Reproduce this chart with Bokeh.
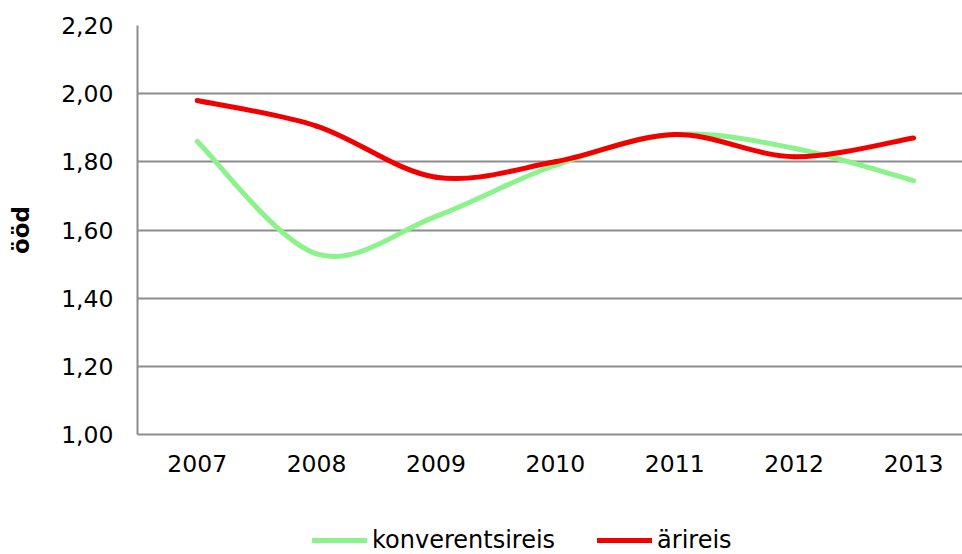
from bokeh.plotting import figure
from bokeh.layouts import column
from bokeh.models import FixedTicker, Legend, LegendItem, Range1d, ColumnDataSource
from bokeh.embed import file_html
from bokeh.resources import INLINE

years = [2007, 2008, 2009, 2010, 2011, 2012, 2013]
konverentsireis = [1.86, 1.53, 1.64, 1.79, 1.88, 1.84, 1.745]
arireis = [1.98, 1.905, 1.755, 1.80, 1.88, 1.815, 1.87]
y_ticks = [1.0, 1.2, 1.4, 1.6, 1.8, 2.0, 2.2]
y_tick_labels = ["1,00", "1,20", "1,40", "1,60", "1,80", "2,00", "2,20"]
series_names = ["konverentsireis", "ärireis"]
series_colors = ["#8CF28C", "#F20000"]

FONT = "DejaVu Sans"


def smooth_segments(xs, ys):
    # Catmull-Rom style bezier control points (as Excel smoothed lines)
    n = len(xs)
    d = dict(x0=[], y0=[], x1=[], y1=[], cx0=[], cy0=[], cx1=[], cy1=[])
    for i in range(n - 1):
        p0 = (xs[max(i - 1, 0)], ys[max(i - 1, 0)])
        p1 = (xs[i], ys[i])
        p2 = (xs[i + 1], ys[i + 1])
        p3 = (xs[min(i + 2, n - 1)], ys[min(i + 2, n - 1)])
        d["x0"].append(p1[0]); d["y0"].append(p1[1])
        d["x1"].append(p2[0]); d["y1"].append(p2[1])
        d["cx0"].append(p1[0] + (p2[0] - p0[0]) / 6.0)
        d["cy0"].append(p1[1] + (p2[1] - p0[1]) / 6.0)
        d["cx1"].append(p2[0] - (p3[0] - p1[0]) / 6.0)
        d["cy1"].append(p2[1] - (p3[1] - p1[1]) / 6.0)
    return ColumnDataSource(d)


p = figure(width=962, height=490, output_backend="svg", toolbar_location=None,
           x_range=Range1d(2006.5, 2013.41), y_range=Range1d(1.0, 2.2),
           min_border_left=137, min_border_right=0, min_border_top=25,
           min_border_bottom=56)
p.outline_line_color = None
p.background_fill_color = "white"
p.border_fill_color = "white"

# grid
p.xgrid.grid_line_color = None
p.ygrid.ticker = FixedTicker(ticks=y_ticks)
p.ygrid.grid_line_color = "#8C8C8C"
p.ygrid.grid_line_width = 2

# axes
p.yaxis.ticker = FixedTicker(ticks=y_ticks)
p.yaxis.major_label_overrides = {t: l for t, l in zip(y_ticks, y_tick_labels)}
p.xaxis.ticker = FixedTicker(ticks=years)
p.xaxis.major_label_overrides = {y: str(y) for y in years}
for ax in (p.xaxis, p.yaxis):
    ax.axis_line_color = "#8C8C8C"
    ax.axis_line_width = 2
    ax.major_tick_line_color = None
    ax.minor_tick_line_color = None
    ax.major_tick_out = 0
    ax.major_tick_in = 0
    ax.major_label_text_font = FONT
    ax.major_label_text_font_size = "23.5px"
    ax.major_label_text_color = "#000000"
p.yaxis.major_label_standoff = 24
p.xaxis.major_label_standoff = 20
p.yaxis.axis_label = "ööd"
p.yaxis.axis_label_text_font = FONT
p.yaxis.axis_label_text_font_style = "bold"
p.yaxis.axis_label_text_font_size = "23px"
p.yaxis.axis_label_text_color = "#000000"
p.yaxis.axis_label_standoff = 24

sources = [smooth_segments(years, vals) for vals in (konverentsireis, arireis)]
glyph_kw = dict(x0="x0", y0="y0", x1="x1", y1="y1", cx0="cx0", cy0="cy0",
                cx1="cx1", cy1="cy1", line_width=5, line_cap="round", line_join="round")
for src, color in zip(sources, series_colors):
    p.bezier(source=src, line_color=color, **glyph_kw)

# legend strip below the chart
pl = figure(width=962, height=64, output_backend="svg", toolbar_location=None,
            x_range=Range1d(0, 1), y_range=Range1d(0, 1), min_border=0)
pl.axis.visible = False
pl.grid.visible = False
pl.outline_line_color = None
pl.border_fill_color = "white"
leg_renderers = [pl.bezier(source=src, line_color=color, **glyph_kw)
                 for src, color in zip(sources, series_colors)]
legend = Legend(items=[LegendItem(label=n, renderers=[r]) for n, r in zip(series_names, leg_renderers)],
                orientation="horizontal", location=(175, 0),
                label_text_font=FONT, label_text_font_size="24px",
                label_text_color="#000000",
                glyph_width=55, glyph_height=24, label_height=24,
                label_standoff=5, spacing=42, padding=0, margin=0,
                border_line_color=None, background_fill_alpha=0)
pl.add_layout(legend, "center")

open("out.html", "w").write(file_html(column(p, pl, spacing=0), INLINE))
